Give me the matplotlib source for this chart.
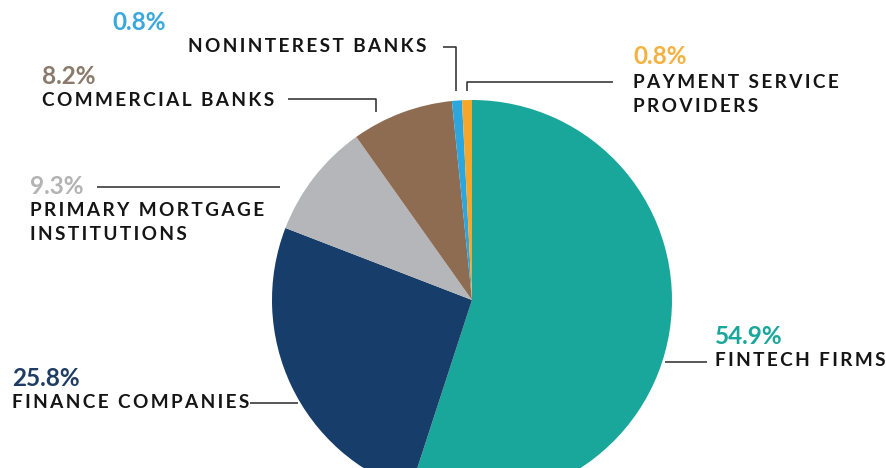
import matplotlib
matplotlib.use("Agg")
import matplotlib.pyplot as plt

# shares of the segments, clockwise from 12 o'clock
categories = ["FINTECH FIRMS", "FINANCE COMPANIES", "PRIMARY MORTGAGE\nINSTITUTIONS",
              "COMMERCIAL BANKS", "NONINTEREST BANKS", "PAYMENT SERVICE\nPROVIDERS"]
shares = [54.9, 25.8, 9.3, 8.2, 0.8, 0.8]
pct_labels = ["54.9%", "25.8%", "9.3%", "8.2%", "0.8%", "0.8%"]
colors = ["#1aa79b", "#173e6a", "#b4b6b9", "#8d6c52", "#2ba6df", "#f6a72a"]
pct_colors = ["#1aa79b", "#1f3d63", "#b3b3b3", "#8a7a6b", "#3aa8dc", "#f5b140"]

H = 468
plt.rcParams['font.family'] = ['Lato', 'DejaVu Sans']

fig = plt.figure(figsize=(8.86, 4.68), dpi=100)
ax = fig.add_axes([0, 0, 1, 1])

ax.pie(shares, colors=colors, startangle=90, counterclock=False,
       center=(472, H - 300), radius=200, frame=True,
       wedgeprops=dict(linewidth=0))
ax.set_xlim(0, 886)
ax.set_ylim(0, H)
ax.set_aspect('equal')
ax.axis('off')


def spaced(s):
    return "\u2009".join(s)


def label(x, y, pct, name, pcolor, px=None):
    ax.text(x if px is None else px, H - y, pct, color=pcolor, fontsize=17.5,
            fontweight='bold', ha='left', va='center')
    for i, ln in enumerate(name.split("\n")):
        ax.text(x, H - (y + 25 + i * 24), spaced(ln), color='#151515',
                fontsize=13.7, fontweight='bold', ha='left', va='center')


def leader(xs, ys):
    ax.plot(xs, [H - v for v in ys], color='#2a2a2a', lw=1.1,
            solid_capstyle='butt')


label(715, 336, pct_labels[0], categories[0], pct_colors[0])
label(12, 378, pct_labels[1], categories[1], pct_colors[1])
label(30, 186, pct_labels[2], categories[2], pct_colors[2])
label(42, 76, pct_labels[3], categories[3], pct_colors[3])
label(188, 22, pct_labels[4], categories[4], pct_colors[4], px=112)
label(633, 57, pct_labels[5], categories[5], pct_colors[5])

leader([665, 707], [362, 362])
leader([250, 298], [403, 403])
leader([97, 280], [187, 187])
leader([288, 376, 376], [99, 99, 112])
leader([443, 456, 456], [47, 47, 91])
leader([613, 467, 467], [82, 82, 91])

fig.savefig("out.png", dpi=100)
